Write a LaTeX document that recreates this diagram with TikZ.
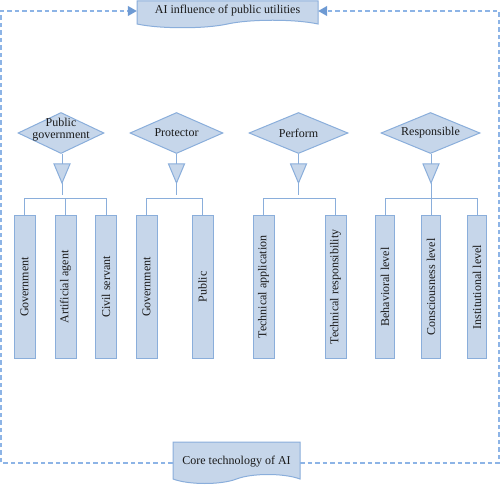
\documentclass[tikz,border=0pt]{standalone}
\usepackage{fontspec}
\setmainfont{Liberation Serif}
\usetikzlibrary{shapes.geometric,arrows.meta}
\definecolor{bfill}{HTML}{C6D6EA}
\definecolor{bline}{HTML}{8AAEDB}
\definecolor{dline}{HTML}{8DB4E6}
\definecolor{tipc}{HTML}{6E9AD3}
\definecolor{txt}{HTML}{1A1A1A}
\begin{document}
\begin{tikzpicture}[x=1pt,y=-1pt,
 shp/.style={fill=bfill,draw=bline,line width=1pt},
 dia/.style={diamond,shp,minimum height=41pt,inner sep=0pt},
 vbox/.style={rectangle,shp,minimum width=21pt,minimum height=142pt,inner sep=0pt,text=txt,font=\fontsize{12}{13}\selectfont},
 lbl/.style={text=txt,font=\fontsize{12}{13}\selectfont,inner sep=0pt,align=center},
 conn/.style={draw=bline,line width=1pt},
 frameline/.style={draw=dline,line width=1.1pt,dash pattern=on 4.5pt off 3pt},
 tipend/.style={-{Triangle[length=9pt,width=10pt,color=tipc]}}
]
\useasboundingbox (0,0) rectangle (500,486);

% document shapes
\path[shp] (137,1) -- (318,1) -- (318,24) .. controls (295,19) and (250,19) .. (227.5,24)
  .. controls (205,29) and (160,29) .. (137,24) -- cycle;
\path[shp] (173,442) -- (300,442) -- (300,479) .. controls (284,473) and (252,473) .. (236.5,479)
  .. controls (221,485) and (189,485) .. (173,479) -- cycle;
\node[lbl,minimum width=181pt] (top) at (227.5,11) {AI influence of public utilities};
\node[lbl,minimum width=127pt] (bot) at (236.5,462) {Core technology of AI};

% dashed frame
\coordinate (bl) at (1,463);
\coordinate (br) at (499,463);
\draw[frameline,tipend] ([yshift=-1pt]bot.west) -- (bl) |- (top.west);
\draw[frameline,tipend] ([yshift=-1pt]bot.east) -- (br) |- (top.east);

% diamonds
\node[dia,minimum width=86pt] (d1) at (61,133) {};
\node[lbl] (d1t) at (61,130) {Public\\[-1pt]government};
\node[dia,minimum width=93pt] (d2) at (176.5,133) {};
\node[lbl] (d2t) at (176.5,133) {Protector};
\node[dia,minimum width=99pt] (d3) at (298.5,133) {};
\node[lbl] (d3t) at (298.5,133) {Perform};
\node[dia,minimum width=99pt] (d4) at (430.5,133) {};
\node[lbl] (d4t) at (430.5,133) {Responsible};

% triangles
\foreach \n/\cx in {1/62,2/176.5,3/298.5,4/431}{
  \coordinate (t\n) at (\cx,164);
  \coordinate (a\n) at (\cx,183);
  \path[shp] (\cx-8,164) -- (\cx+8,164) -- (a\n) -- cycle;
}
\draw[conn] (t1 |- d1.south) -- (t1);
\draw[conn] (d2.south) -- (t2);
\draw[conn] (d3.south) -- (t3);
\draw[conn] (t4 |- d4.south) -- (t4);

% boxes
\node[vbox] (b11) at (24.5,287) {\rotatebox{90}{Government}};
\node[vbox] (b12) at (65.5,287) {\rotatebox{90}{Artificial agent}};
\node[vbox] (b13) at (106,287) {\rotatebox{90}{Civil servant}};
\node[vbox] (b21) at (146.5,287) {\rotatebox{90}{Government}};
\node[vbox] (b22) at (202.5,287) {\rotatebox{90}{Public}};
\node[vbox] (b31) at (263.5,287) {\rotatebox{90}{Technical application}};
\node[vbox] (b32) at (335.5,287) {\rotatebox{90}{Technical responsibility}};
\node[vbox,minimum width=18.5pt] (b41) at (385,287) {\rotatebox{90}{Behavioral level}};
\node[vbox,minimum width=18.5pt] (b42) at (431,287) {\rotatebox{90}{Consciousness level}};
\node[vbox,minimum width=18.5pt] (b43) at (477,287) {\rotatebox{90}{Institutional level}};

% buses
\coordinate (y1) at (0,199);
\coordinate (y0) at (0,195);
\draw[conn] (a1) -- (a1 |- y0);
\draw[conn] (b11.north) -- (b11.north |- y1) -- (b13.north |- y1) -- (b13.north);
\draw[conn] (b12.north) -- (b12.north |- y1);
\draw[conn] (a2) -- (a2 |- y0);
\draw[conn] (b21.north) -- (b21.north |- y1) -- (b22.north |- y1) -- (b22.north);
\draw[conn] (a3) -- (a3 |- y0);
\draw[conn] (b31.north) -- (b31.north |- y1) -- (b32.north |- y1) -- (b32.north);
\draw[conn] (b41.north) -- (b41.north |- y1) -- (b43.north |- y1) -- (b43.north);
\draw[conn] (a4) -- (b42.north);
\end{tikzpicture}
\end{document}
